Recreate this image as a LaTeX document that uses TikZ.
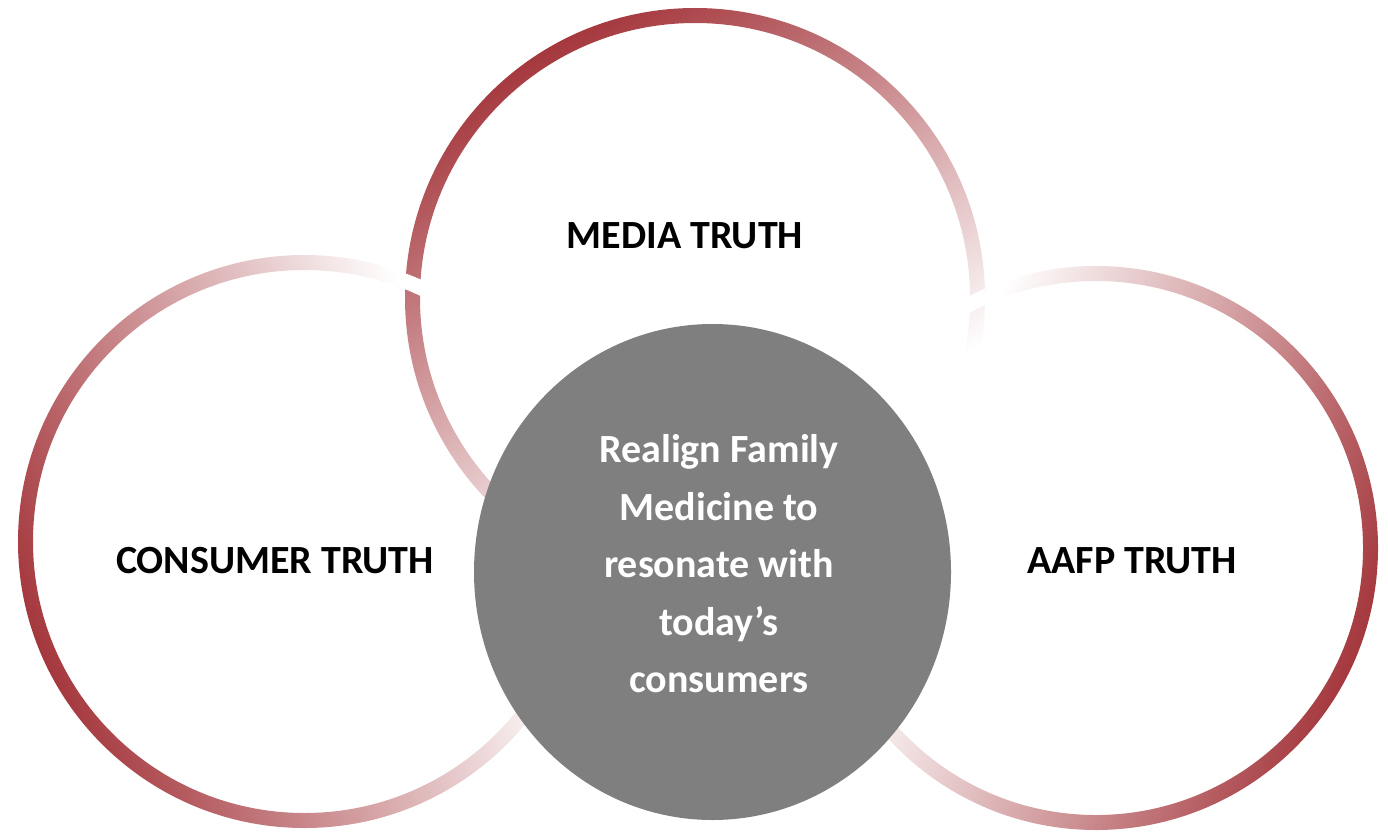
\documentclass[tikz,border=0pt]{standalone}
\usepackage{fontspec}
\setmainfont{Carlito}

\definecolor{ringred}{RGB}{158,42,48}
\definecolor{coregray}{RGB}{127,127,127}
% dark red at one side, fading out to white at the other
\pgfdeclarehorizontalshading{ringfade}{100bp}{color(0bp)=(ringred); color(22bp)=(ringred); color(66bp)=(white); color(100bp)=(white)}

\tikzset{
  ring/.style={shading=ringfade, even odd rule},
  etq/.style={font=\fontsize{40}{57.5}\selectfont\bfseries, text=black, align=center},
}

\begin{document}
\begin{tikzpicture}[x=1pt, y=-1pt]
  \useasboundingbox (0,0) rectangle (1388,832);
  % rings: top one first, the side ones cross over it
  \shade[ring, shading angle=-60] (695,298) circle (290pt) circle (275pt);
  \shade[ring, shading angle=21] (304.5,541.5) circle (286.5pt) circle (271.5pt);
  \shade[ring, shading angle=159] (1096,548) circle (282pt) circle (267pt);
  % core disc
  \fill[coregray] (712.5,572) ellipse [x radius=238.5pt, y radius=248pt];

  \node[etq] (media) at (685,236) {MEDIA TRUTH};
  \node[etq] (consumer) at (275,561) {CONSUMER TRUTH};
  \node[etq] (aafp) at (1132,561) {AAFP TRUTH};
  \node[etq, text=white] (core) at (719,564) {Realign Family\\Medicine to\\resonate with\\today’s\\consumers};
\end{tikzpicture}
\end{document}
